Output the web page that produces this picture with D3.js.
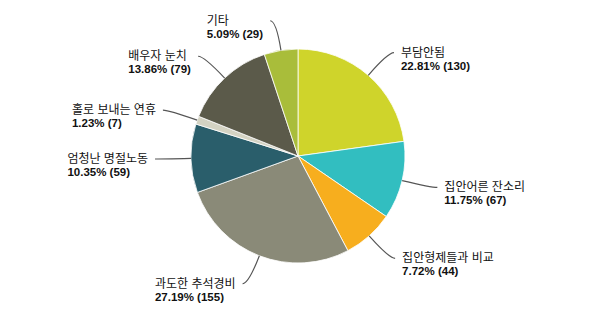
<!DOCTYPE html>
<html>
<head>
<meta charset="utf-8">
<script src="https://cdn.jsdelivr.net/npm/d3@7"></script>
<style>
  body { margin: 0; background: #fff; }
  text { font-family: "Liberation Sans", Arial, "Noto Sans CJK KR", sans-serif; fill: #111; }
</style>
</head>
<body>
<svg></svg>
<script>
var width = 597;
var height = 323;
var radius = 107;
var cx = 298, cy = 156;

var categories = ["부담안됨", "집안어른 잔소리", "집안형제들과 비교", "과도한 추석경비",
                  "엄청난 명절노동", "홀로 보내는 연휴", "배우자 눈치", "기타"];
var counts = [130, 67, 44, 155, 59, 7, 79, 29];
var colors = ["#cfd42b", "#32bec0", "#f7ae1e", "#8a8a78",
              "#2a5e6b", "#d4d3c3", "#5b5a4a", "#a9bd3a"];

var total = d3.sum(counts);
var fmt = d3.format(".2f");

var data = categories.map((c, i) => ({ name: c, value: counts[i], color: colors[i] }));

var pie = d3.pie().sort(null).value(d => d.value);
var arc = d3.arc().innerRadius(0).outerRadius(radius);

var svg = d3.select("svg")
    .attr("width", width)
    .attr("height", height);

var g = svg.append("g").attr("transform", `translate(${cx},${cy})`);

var arcs = pie(data);

g.selectAll("path.slice")
  .data(arcs)
  .enter()
  .append("path")
    .attr("class", "slice")
    .attr("d", arc)
    .attr("fill", d => d.data.color)
    .attr("stroke", "#fff")
    .attr("stroke-width", 0.8);

function polar(r, a) {
  return [r * Math.sin(a), -r * Math.cos(a)];
}

arcs.forEach(d => {
  var mid = (d.startAngle + d.endAngle) / 2;
  var right = Math.sin(mid) >= 0;
  var dir = right ? 1 : -1;
  var p0 = polar(radius, mid);
  var c = polar(radius + 30, mid);
  var p2 = [c[0] + dir * 6, c[1]];

  g.append("path")
    .attr("d", `M${p0[0]},${p0[1]} Q${c[0]},${c[1]} ${p2[0]},${p2[1]}`)
    .attr("fill", "none")
    .attr("stroke", "#555")
    .attr("stroke-width", 1.2);

  var lab = g.append("g");
  lab.append("text")
    .attr("y", 4)
    .style("font-size", "12px")
    .text(d.data.name);
  lab.append("text")
    .attr("y", 17)
    .style("font-size", "11.5px")
    .style("font-weight", "bold")
    .text(fmt(d.data.value / total * 100) + "% (" + d.data.value + ")");

  var w = lab.node().getBBox().width;
  var x = right ? p2[0] + 7 : p2[0] - 7 - w;
  lab.attr("transform", `translate(${x},${p2[1]})`);
});
</script>
</body>
</html>
